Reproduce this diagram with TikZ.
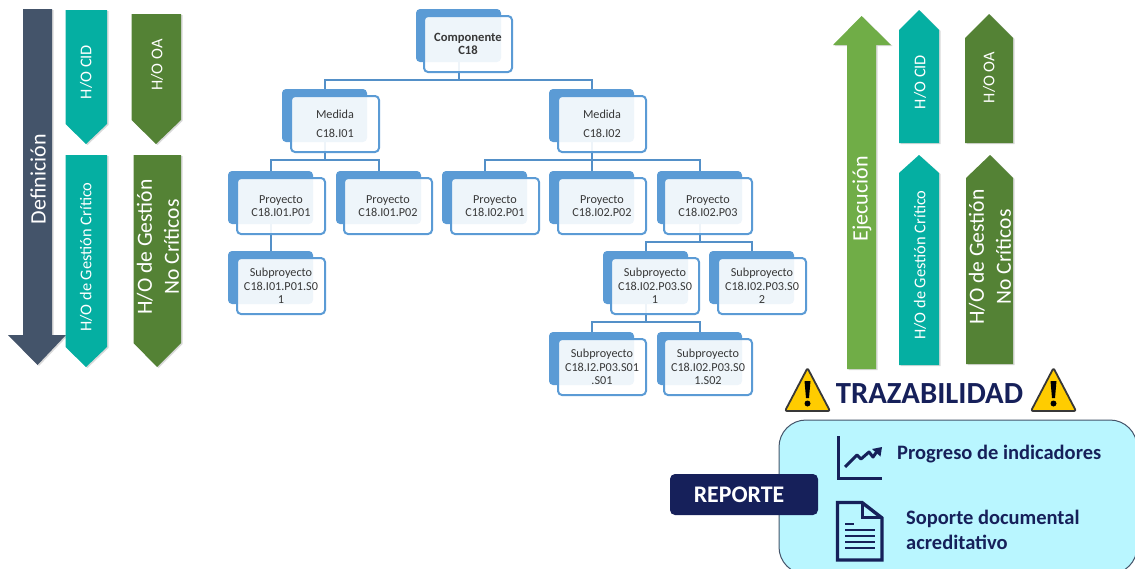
\documentclass[tikz,border=0pt]{standalone}
\usepackage{fontspec}
\setmainfont{Carlito}
\usetikzlibrary{backgrounds,shadows,calc,arrows.meta}
\definecolor{backblue}{HTML}{5B9BD5}
\definecolor{linkblue}{HTML}{5490C8}
\definecolor{slatearrow}{HTML}{44546A}
\definecolor{teal}{HTML}{05AFA2}
\definecolor{moss}{HTML}{548235}
\definecolor{leaf}{HTML}{70AD47}
\definecolor{navy}{HTML}{16205A}
\definecolor{panel}{HTML}{B9F6FF}
\definecolor{warnyellow}{HTML}{FFCC00}
\definecolor{bodytext}{HTML}{383838}
\tikzset{
  backbox/.style={anchor=north west,minimum width=85pt,minimum height=53pt,inner sep=0pt,outer sep=0pt,fill=backblue,rounded corners=4pt},
  frontbox/.style={anchor=north west,minimum width=88pt,minimum height=56pt,inner sep=0pt,outer sep=0pt,draw=backblue,line width=2pt,fill=white,fill opacity=.9,text opacity=1,rounded corners=4pt,align=center,text=bodytext,font=\fontsize{12.2}{13.5}\selectfont},
  link/.style={draw=linkblue,line width=2pt},
  band/.style={drop shadow={shadow xshift=1.5pt,shadow yshift=-1pt,opacity=.3}},
  whitetext/.style={text=white,rotate=90,align=center,inner sep=0pt},
  small/.style={font=\fontsize{16.4}{18}\selectfont},
  big/.style={font=\fontsize{21.6}{27}\selectfont},
  navytext/.style={text=navy,font=\bfseries\fontsize{20.5}{25}\selectfont,anchor=west,align=left,inner sep=0pt},
  warn/.pic={
    \draw[draw=bodytext,line width=1.8pt,fill=warnyellow,rounded corners=2pt,line join=round] (0,-22) -- (22.5,21) -- (-22.5,21) -- cycle;
    \fill[black] (-3,-9) -- (3,-9) -- (1.5,8) -- (-1.5,8) -- cycle;
    \fill[black] (0,13.5) circle (3pt);
  }
}
\newcommand\orgbox[5]{%
  \node[backbox] (#1b) at (#2,#3) {};
  \node[frontbox] (#1) at (#4,#3+7) {#5};
}
\begin{document}
\begin{tikzpicture}[x=1pt,y=-1pt]
\useasboundingbox (0,0) rectangle (1135,568);
\clip (0,0) rectangle (1135,568);
% left column
\fill[slatearrow,band] (23,9) -- (52,9) -- (52,335) -- (66,335) -- (37.5,365) -- (8,335) -- (23,335) -- cycle;
\node[whitetext,font=\fontsize{22}{25}\selectfont] (def) at (38,179) {Definición};
\fill[teal,band] (65.5,10) -- (107,10) -- (107,124) -- (86,144) -- (65.5,124) -- cycle;
\node[whitetext,small] (lcid) at (86,72) {H/O CID};
\fill[moss,band] (131.5,14) -- (181,14) -- (181,120) -- (156,144) -- (131.5,120) -- cycle;
\node[whitetext,small] (loa) at (157,65) {H/O OA};
\fill[teal,band] (65.5,155) -- (107,155) -- (107,347) -- (86,367) -- (65.5,347) -- cycle;
\node[whitetext,small] (lcrit) at (86,257) {H/O de Gestión Crítico};
\fill[moss,band] (133.5,155) -- (181,155) -- (181,343) -- (157,367) -- (133.5,343) -- cycle;
\node[whitetext,big] (lno) at (158,247) {H/O de Gestión\\No Críticos};
% tree
\orgbox{comp}{416}{9}{424}{\textbf{\fontsize{12.6}{13.5}\selectfont Componente}\\\textbf{\fontsize{12.6}{13.5}\selectfont C18}}
\orgbox{ma}{282}{89}{291}{Medida\\[5.5pt]C18.I01}
\orgbox{mb}{549}{89}{558}{Medida\\[5.5pt]C18.I02}
\orgbox{pa}{228}{171}{237}{Proyecto\\C18.I01.P01}
\orgbox{pb}{336}{171}{344}{Proyecto\\C18.I01.P02}
\orgbox{pc}{442}{171}{451}{Proyecto\\C18.I02.P01}
\orgbox{pd}{549}{171}{558}{Proyecto\\C18.I02.P02}
\orgbox{pe}{657}{171}{664}{Proyecto\\C18.I02.P03}
\orgbox{sa}{228}{251}{237}{Subproyecto\\C18.I01.P01.S0\\1}
\orgbox{sb}{603}{251}{611}{Subproyecto\\C18.I02.P03.S0\\1}
\orgbox{sc}{709}{251}{718}{Subproyecto\\C18.I02.P03.S0\\2}
\orgbox{sd}{549}{332}{558}{Subproyecto\\C18.I2.P03.S01\\.S01}
\orgbox{se}{657}{332}{664}{Subproyecto\\C18.I02.P03.S0\\1.S02}
\begin{scope}[on background layer]
  \foreach \p/\c in {compb/mab,compb/mbb,mab/pab,mab/pbb,mbb/pcb,mbb/pdb,mbb/peb,peb/sbb,peb/scb,sbb/sdb,sbb/seb}{
    \draw[link] (\p.south) -- ++(0,18) -| (\c.north);
  }
  \draw[link] (pab.south) -- (sab.north);
\end{scope}
% right column
\fill[leaf,band] (847,369) -- (847,45) -- (833,45) -- (861.5,16) -- (891,45) -- (876,45) -- (876,369) -- cycle;
\node[whitetext,font=\fontsize{22}{25}\selectfont] (eje) at (862,199) {Ejecución};
\fill[teal,band] (899,143) -- (899,30) -- (919,10) -- (939,30) -- (939,143) -- cycle;
\node[whitetext,small] (rcid) at (920,82) {H/O CID};
\fill[moss,band] (965,143) -- (965,38) -- (989,14) -- (1013,38) -- (1013,143) -- cycle;
\node[whitetext,small] (roa) at (989,77.5) {H/O OA};
\fill[teal,band] (899,365) -- (899,173) -- (919,155) -- (939,173) -- (939,365) -- cycle;
\node[whitetext,small] (rcrit) at (920,265) {H/O de Gestión Crítico};
\fill[moss,band] (966,364) -- (966,178) -- (990,155) -- (1013,178) -- (1013,364) -- cycle;
\node[whitetext,big] (rno) at (990,257) {H/O de Gestión\\No Críticos};
% traceability
\pic at (807.5,390) {warn};
\pic at (1053.5,390) {warn};
\node[text=navy,font=\bfseries\fontsize{30.7}{32}\selectfont,inner sep=0pt] (traz) at (929.5,394) {TRAZABILIDAD};
\draw[draw=slatearrow,line width=1pt,fill=panel,rounded corners=27pt] (779,420) rectangle (1137,574);
\node[fill=navy,text=white,rounded corners=5pt,minimum width=148pt,minimum height=41pt,inner sep=0pt,font=\bfseries\fontsize{23.8}{26}\selectfont] (rep) at (744,494.5) {REPORTE\kern10pt};
\node[navytext] (prog) at (897,454.5) {Progreso de indicadores};
\node[navytext] (sop) at (906,529.5) {Soporte documental\\acreditativo};
% chart icon
\draw[navy,line width=3pt] (838.5,436) -- (838.5,478) -- (882,478);
\draw[navy,line width=3pt,line join=round] (845,467) -- (857,455) -- (861,459) -- (869,452) -- (873,457) -- (878,450);
\fill[navy] (882,447) -- (880.5,456.5) -- (872,449) -- cycle;
% document icon
\draw[navy,line width=3.4pt,line join=miter,fill=panel] (837.5,502.5) -- (862,502.5) -- (882,518) -- (882,560) -- (837.5,560) -- cycle;
\draw[navy,line width=3pt,line join=miter] (862,502.5) -- (862,517) -- (882,517);
\draw[navy,line width=2pt] (845,524) -- (854,524);
\foreach \ly in {530,536,542,548}{\draw[navy,line width=2pt] (845,\ly) -- (875,\ly);}
\end{tikzpicture}
\end{document}
